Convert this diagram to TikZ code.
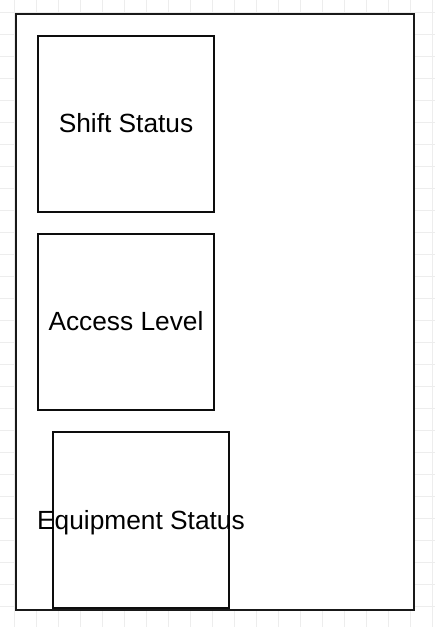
\documentclass[tikz,border=0pt]{standalone}
\usepackage{fontspec}
\setmainfont{Liberation Sans}
\begin{document}
\begin{tikzpicture}[x=1pt,y=-1pt,
  gridline/.style={draw=black!7,line width=0.8pt},
  frame/.style={draw=black!90,line width=1.7pt,fill=white},
  box/.style={draw=black!95,line width=1.7pt,fill=white,minimum width=176pt,minimum height=176pt,inner sep=0pt,rectangle},
  lbl/.style={font=\fontsize{26.3}{30}\selectfont,inner sep=0pt}]
\useasboundingbox (0,0) rectangle (435,627);
\fill[white] (0,0) rectangle (435,627);
\foreach \i in {0,...,19} \draw[gridline] (14.8+22*\i,0) -- (14.8+22*\i,627);
\foreach \j in {0,...,28} \draw[gridline] (0,12.5+22*\j) -- (435,12.5+22*\j);
\node[frame,rectangle,minimum width=398pt,minimum height=596pt,inner sep=0pt] (outer) at (215,312) {};
\node[box] (shift) at (126,124) {};
\node[lbl] (shiftT) at ([yshift=1pt]shift.center) {Shift Status};
\node[box] (access) at (126,322) {};
\node[lbl] (accessT) at ([yshift=1pt]access.center) {Access Level};
\node[box] (equip) at (141,520) {};
\node[lbl] (equipT) at ([yshift=-3pt]equip.center) {Equipment Status};
\end{tikzpicture}
\end{document}
